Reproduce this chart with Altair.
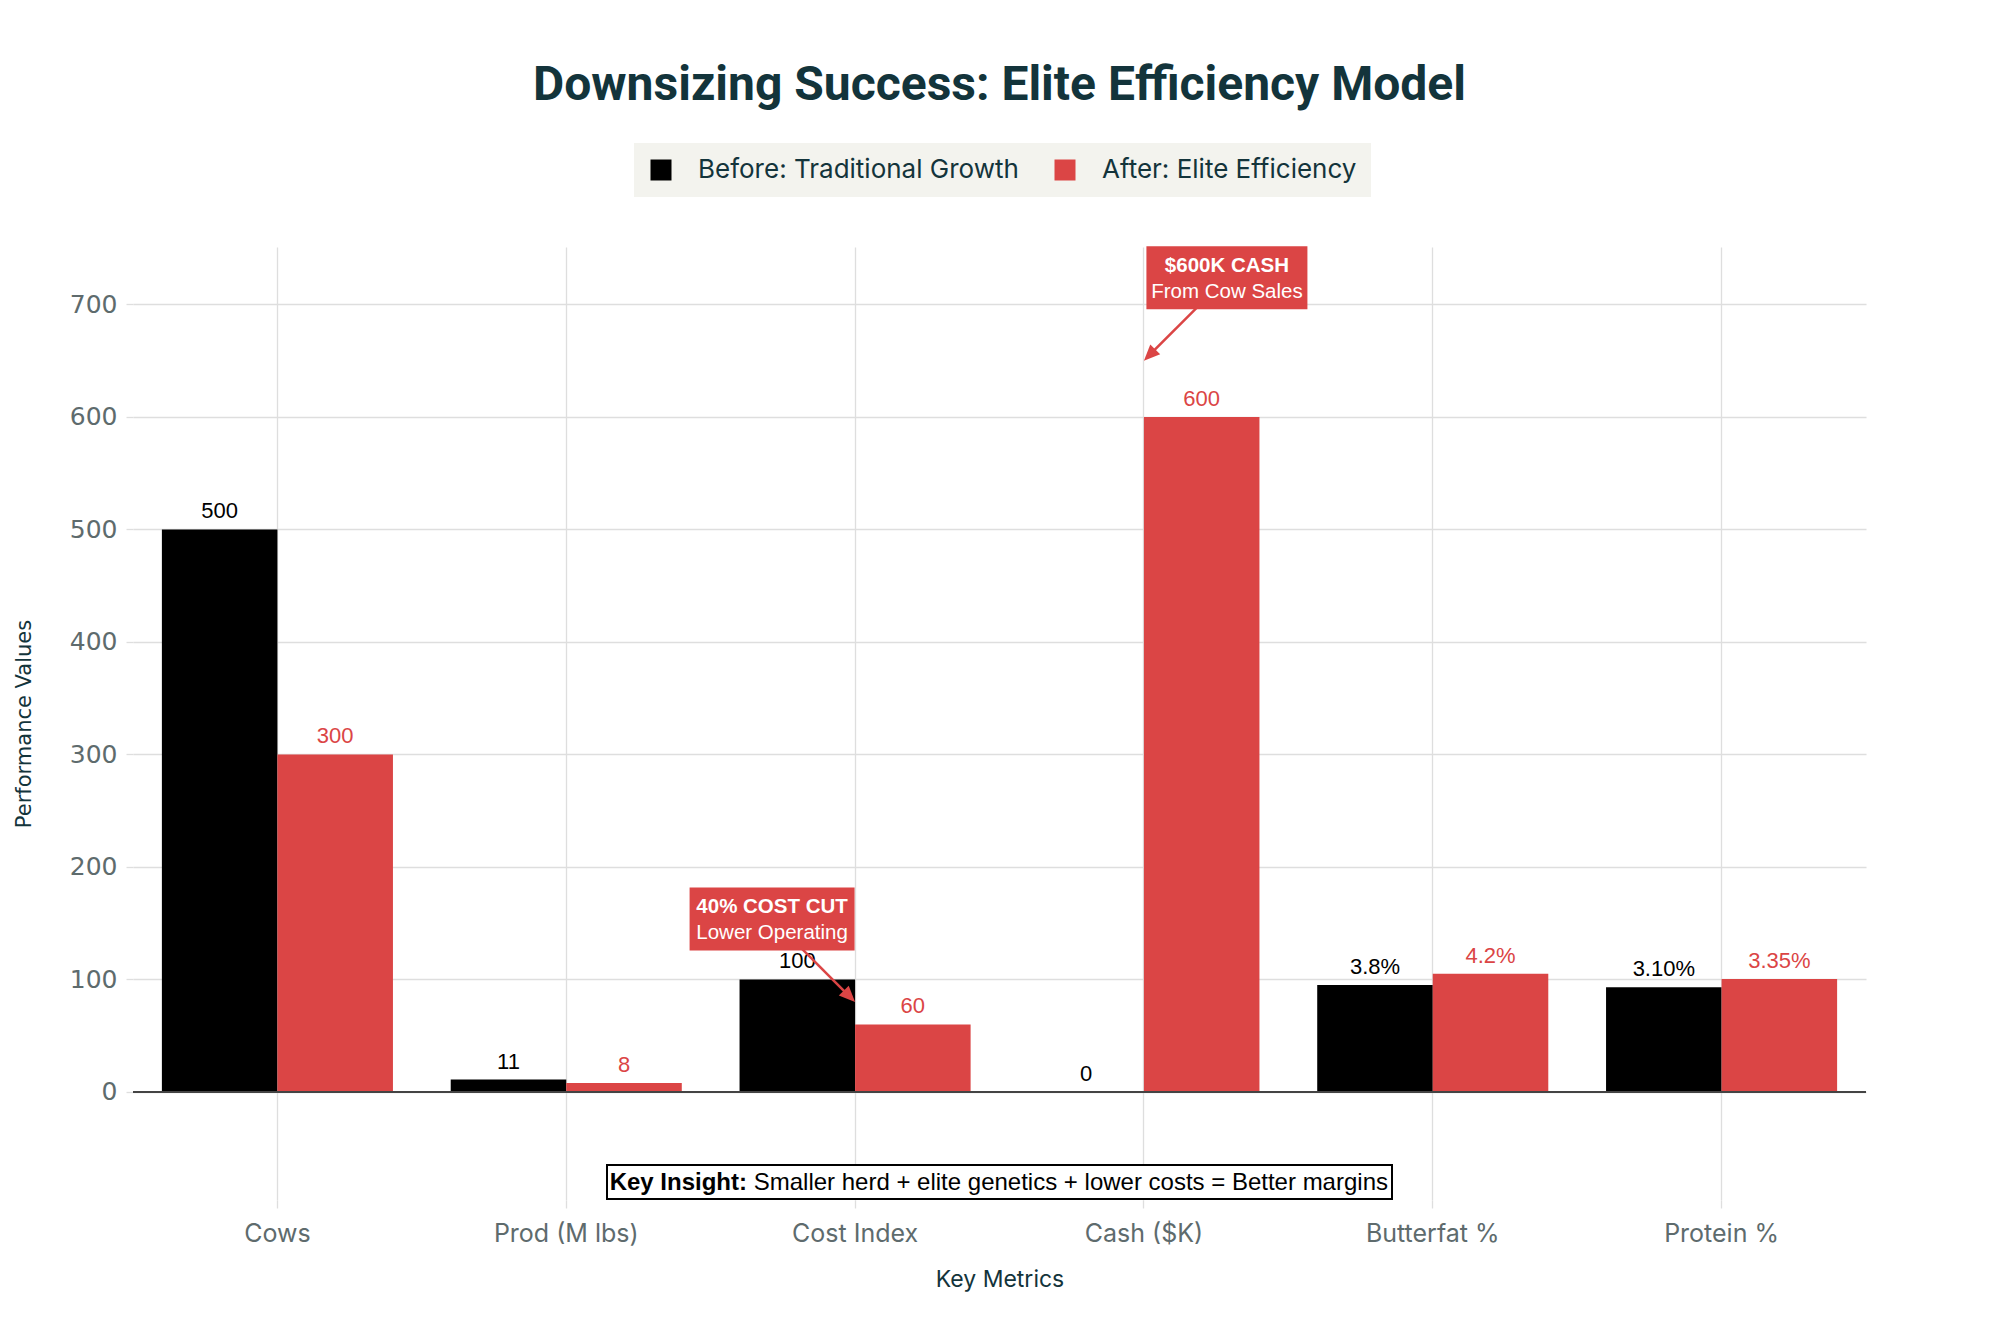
import math
import altair as alt
import pandas as pd

# ---------------- data ----------------
categories = ["Cows", "Prod (M lbs)", "Cost Index", "Cash ($K)", "Butterfat %", "Protein %"]
series_names = ["Before: Traditional Growth", "After: Elite Efficiency"]
series_colors = ["#000000", "#DB4545"]
before_values = [500, 11, 100, 0, 95, 93]
after_values = [300, 8, 60, 600, 105, 100.5]
before_labels = ["500", "11", "100", "0", "3.8%", "3.10%"]
after_labels = ["300", "8", "60", "600", "4.2%", "3.35%"]
y_ticks = [0, 100, 200, 300, 400, 500, 600, 700]
y_domain = [-96, 751]

# annotations (anchor in data space, offsets in pixels)
ann_categories = ["Cost Index", "Cash ($K)"]
ann_values = [80, 650]
ann_titles = ["40% COST CUT", "$600K CASH"]
ann_subtitles = ["Lower Operating", "From Cow Sales"]
ann_ax = [-83, 83]
ann_ay = [-83, -83]
ann_box_w = [165, 161]
ann_box_h = 63

insight_bold = "Key Insight:"
insight_text = "Smaller herd + elite genetics + lower costs = Better margins"

chart_title = "Downsizing Success: Elite Efficiency Model"
x_title = "Key Metrics"
y_title = "Performance Values"

# ---------------- style ----------------
TEAL = "#13343B"
GRAY = "#5E6B6D"
GRID = "#DEDEDE"
RED = "#DB4545"
PLOT_W = 1733
PLOT_H = 953

rows = []
for c, bv, av, bl, al in zip(categories, before_values, after_values, before_labels, after_labels):
    rows.append({"category": c, "series": series_names[0], "value": bv, "label": bl})
    rows.append({"category": c, "series": series_names[1], "value": av, "label": al})
df = pd.DataFrame(rows)

x_enc = alt.X(
    "category:N",
    sort=categories,
    scale=alt.Scale(paddingInner=0.2, paddingOuter=0.1),
    axis=alt.Axis(
        title=x_title, titleFont="Inter", titleFontSize=23, titleColor=TEAL,
        titleFontWeight="normal", titleY=79, titleBaseline="middle",
        labelFont="Inter", labelFontSize=25, labelColor=GRAY, labelAngle=0,
        labelPadding=25, labelBaseline="middle",
        tickSize=8, tickColor=GRID, tickWidth=1.3, domain=False,
        grid=True, gridColor=GRID, gridWidth=1.3, bandPosition=0.5,
    ),
)
y_enc = alt.Y(
    "value:Q",
    scale=alt.Scale(domain=y_domain, nice=False, zero=False),
    axis=alt.Axis(
        values=y_ticks, title=y_title, titleFont="DejaVu Sans", titleFontSize=21,
        titleColor=TEAL, titleFontWeight="normal", titleX=-109, titleY=PLOT_H / 2,
        titleAlign="center", titleBaseline="middle",
        labelFont="DejaVu Sans", labelFontSize=25, labelColor=GRAY, labelPadding=9,
        tickSize=7, tickColor=GRID, tickWidth=1.3, domain=False,
        grid=True, gridColor=GRID, gridWidth=1.3,
    ),
)
xoff = alt.XOffset("series:N", sort=series_names, scale=alt.Scale(paddingInner=0, paddingOuter=0))
color_scale = alt.Scale(domain=series_names, range=series_colors)

base = alt.Chart(df)

bars = base.mark_bar(opacity=1).encode(
    x=x_enc, y=y_enc, xOffset=xoff,
    color=alt.Color(
        "series:N", scale=color_scale, sort=series_names,
        legend=alt.Legend(
            orient="none", legendX=501, legendY=-104, direction="horizontal", title=None,
            symbolType="square", symbolSize=441, symbolStrokeWidth=0, symbolOpacity=1,
            labelFont="Inter", labelFontSize=26, labelColor=TEAL, labelOffset=24,
            labelLimit=600, columnPadding=33, fillColor="#F3F3EE", padding=14,
        ),
    ),
)

labels = base.mark_text(
    dy=-11, baseline="alphabetic", align="center", font="Liberation Sans", fontSize=22
).encode(
    x=x_enc, y=y_enc, xOffset=xoff, text="label:N",
    color=alt.Color("series:N", scale=color_scale, sort=series_names, legend=None),
)

zero = alt.Chart(pd.DataFrame({"value": [0]})).mark_rule(color="#444444", strokeWidth=2).encode(y=y_enc)

layers = [bars, labels, zero]


def arrow_paths(ax, ay, head_len=16, head_half=7):
    L = math.hypot(ax, ay)
    bx, by = ax / L * head_len, ay / L * head_len
    px, py = -ay / L * head_half, ax / L * head_half
    head = f"M0,0L{bx + px:.2f},{by + py:.2f}L{bx - px:.2f},{by - py:.2f}Z"
    line = f"M{ax},{ay}L{bx * 0.7:.2f},{by * 0.7:.2f}"
    return line, head


for cat, val, t1, t2, ax, ay, bw in zip(ann_categories, ann_values, ann_titles, ann_subtitles,
                                         ann_ax, ann_ay, ann_box_w):
    adf = pd.DataFrame({"category": [cat], "value": [val]})
    a = alt.Chart(adf)
    line_p, head_p = arrow_paths(ax, ay)
    box_p = f"M{ax - bw / 2},{ay - ann_box_h / 2}h{bw}v{ann_box_h}h{-bw}Z"
    layers.append(a.mark_point(shape=line_p, size=4, filled=False, stroke=RED, strokeWidth=2.5,
                               opacity=1).encode(x=x_enc, y=y_enc))
    layers.append(a.mark_point(shape=head_p, size=4, filled=True, fill=RED, strokeWidth=0,
                               opacity=1).encode(x=x_enc, y=y_enc))
    layers.append(a.mark_point(shape=box_p, size=4, filled=True, fill=RED, strokeWidth=0,
                               opacity=1).encode(x=x_enc, y=y_enc))
    layers.append(a.mark_text(text=t1, font="Liberation Sans", fontWeight="bold", fontSize=20.5,
                              color="white", dx=ax, dy=ay - 6, align="center",
                              baseline="alphabetic").encode(x=x_enc, y=y_enc))
    layers.append(a.mark_text(text=t2, font="Liberation Sans", fontSize=20.5,
                              color="white", dx=ax, dy=ay + 20, align="center",
                              baseline="alphabetic").encode(x=x_enc, y=y_enc))

# key insight box (positioned in plot-relative pixels, like paper coordinates)
one = alt.Chart(pd.DataFrame({"k": [0]}))
cx = PLOT_W / 2
layers.append(one.mark_rect(fill="white", stroke="black", strokeWidth=2).encode(
    x=alt.value(cx - 392.5), x2=alt.value(cx + 392.5), y=alt.value(918), y2=alt.value(952)))
layers.append(one.mark_text(text=insight_bold, font="Liberation Sans", fontWeight="bold", fontSize=24,
                            color="black", align="right", baseline="alphabetic").encode(
    x=alt.value(cx - 252.5), y=alt.value(943)))
layers.append(one.mark_text(text=insight_text, font="Liberation Sans", fontSize=24,
                            color="black", align="left", baseline="alphabetic").encode(
    x=alt.value(cx - 245.8), y=alt.value(943)))

chart = alt.layer(*layers).properties(
    width=PLOT_W,
    height=PLOT_H,
    autosize=alt.AutoSizeParams(type="none"),
    padding={"left": 125, "top": 239, "right": 100, "bottom": 110},
    title=alt.Title(chart_title, font="Roboto", fontSize=48, fontWeight="bold", color=TEAL,
                    anchor="middle", frame="group", offset=33),
).configure(background="white").configure_view(stroke=None)

chart.save("out.html", embed_options={"renderer": "svg", "actions": False})
